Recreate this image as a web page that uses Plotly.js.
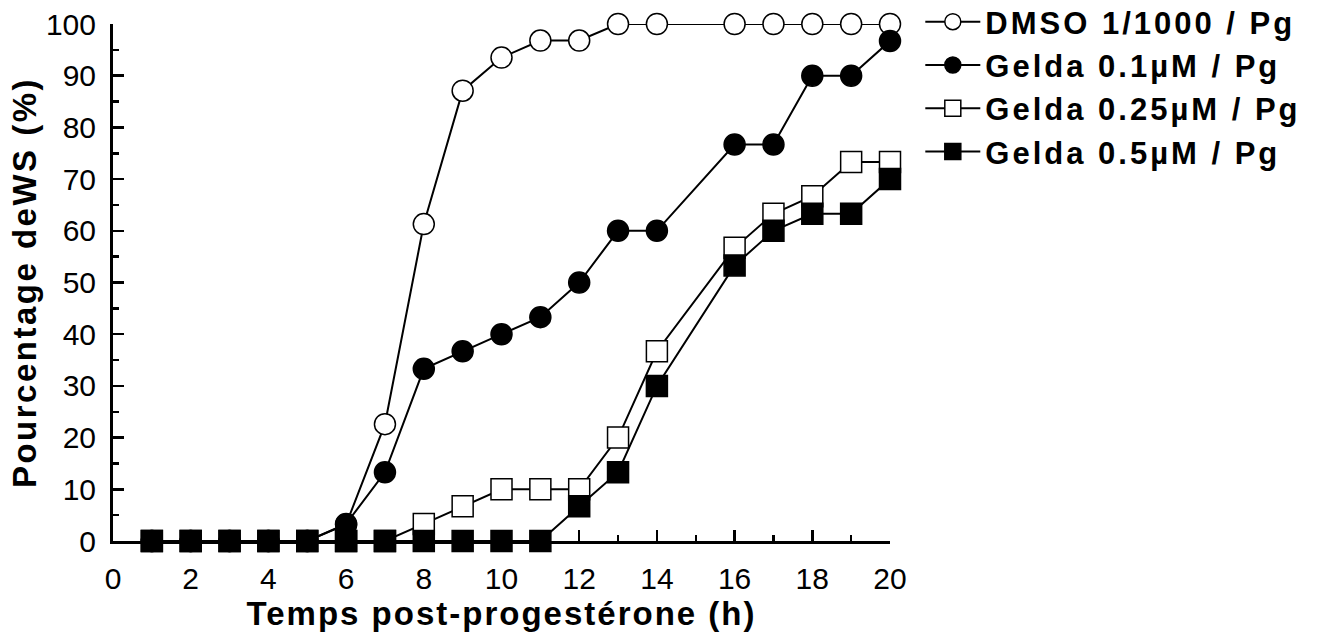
<!DOCTYPE html>
<html>
<head>
<meta charset="utf-8">
<script src="https://cdn.plot.ly/plotly-3.0.1.min.js"></script>
<style>
  html, body { margin: 0; padding: 0; background: #fff; }
  #chart { width: 1317px; height: 634px; }
  .legendtext { letter-spacing: 3px; }
  .xtitle { letter-spacing: 2px; }
  .ytitle { letter-spacing: 2.5px; }
</style>
</head>
<body>
<div id="chart"></div>
<script>
// Data (time after progesterone, % of WS)
const hours = [1,2,3,4,5,6,7,8,9,10,11,12,13,14,16,17,18,19,20];
const dmso   = [0,0,0,0,0,3.2,22.6,61.3,87.1,93.5,96.8,96.8,100,100,100,100,100,100,100];
const gelda01  = [0,0,0,0,0,3.3,13.3,33.3,36.7,40,43.3,50,60,60,76.7,76.7,90,90,96.7];
const gelda025 = [0,0,0,0,0,0,0,3.3,6.7,10,10,10,20,36.7,56.7,63.3,66.7,73.3,73.3];
const gelda05  = [0,0,0,0,0,0,0,0,0,0,0,6.7,13.3,30,53.3,60,63.3,63.3,70];
const seriesNames = ['DMSO 1/1000 / Pg','Gelda 0.1µM / Pg','Gelda 0.25µM / Pg','Gelda 0.5µM / Pg'];
const xTitle = 'Temps post-progestérone (h)';
const yTitle = 'Pourcentage deWS (%)';

const FONT = '"Liberation Sans", Arial, sans-serif';
const lineStyle = {color: '#000', width: 2};

function trace(y, name, symbol, fill, rank) {
  return {
    x: hours, y: y, name: name, type: 'scatter', mode: 'lines+markers',
    line: lineStyle, cliponaxis: false, legendrank: rank,
    marker: {symbol: symbol, size: 21, color: fill, line: {color: '#000', width: 1.5}}
  };
}

// drawing order: open markers beneath filled ones
const data = [
  trace(dmso, seriesNames[0], 'circle', '#fff', 1),
  trace(gelda025, seriesNames[2], 'square', '#fff', 3),
  trace(gelda01, seriesNames[1], 'circle', '#000', 2),
  trace(gelda05, seriesNames[3], 'square', '#000', 4)
];

const layout = {
  width: 1317, height: 634,
  margin: {l: 113, r: 427, t: 24, b: 93, autoexpand: false},
  paper_bgcolor: '#fff', plot_bgcolor: '#fff',
  font: {family: FONT, color: '#000', size: 30},
  showlegend: true,
  legend: {
    x: 1.039, y: 1.056, xanchor: 'left', yanchor: 'top',
    font: {family: FONT, size: 31, weight: 'bold', color: '#000'},
    bgcolor: 'rgba(0,0,0,0)', traceorder: 'normal', itemwidth: 55,
    tracegroupgap: 0
  },
  xaxis: {
    range: [0, 20], fixedrange: true,
    showline: true, linewidth: 3, linecolor: '#000',
    showgrid: false, zeroline: false,
    tickmode: 'linear', tick0: 0, dtick: 2,
    ticks: 'inside', ticklen: 11, tickwidth: 2.5, tickcolor: '#000',
    minor: {dtick: 1, ticks: 'inside', ticklen: 6, tickwidth: 2.5, tickcolor: '#000'},
    tickfont: {family: FONT, size: 30, color: '#000'},
    ticklabelstandoff: 9,
    title: {text: xTitle, font: {family: FONT, size: 33, weight: 'bold', color: '#000'}, standoff: 4}
  },
  yaxis: {
    range: [0, 100], fixedrange: true,
    showline: true, linewidth: 3, linecolor: '#000',
    showgrid: false, zeroline: false,
    tickmode: 'linear', tick0: 0, dtick: 10,
    ticks: 'inside', ticklen: 11, tickwidth: 2.5, tickcolor: '#000',
    minor: {dtick: 5, ticks: 'inside', ticklen: 6, tickwidth: 2.5, tickcolor: '#000'},
    tickfont: {family: FONT, size: 30, color: '#000'},
    ticklabelstandoff: 8,
    title: {text: yTitle, font: {family: FONT, size: 33, weight: 'bold', color: '#000'}, standoff: 0}
  }
};

Plotly.newPlot('chart', data, layout, {displayModeBar: false, staticPlot: true});
</script>
</body>
</html>
